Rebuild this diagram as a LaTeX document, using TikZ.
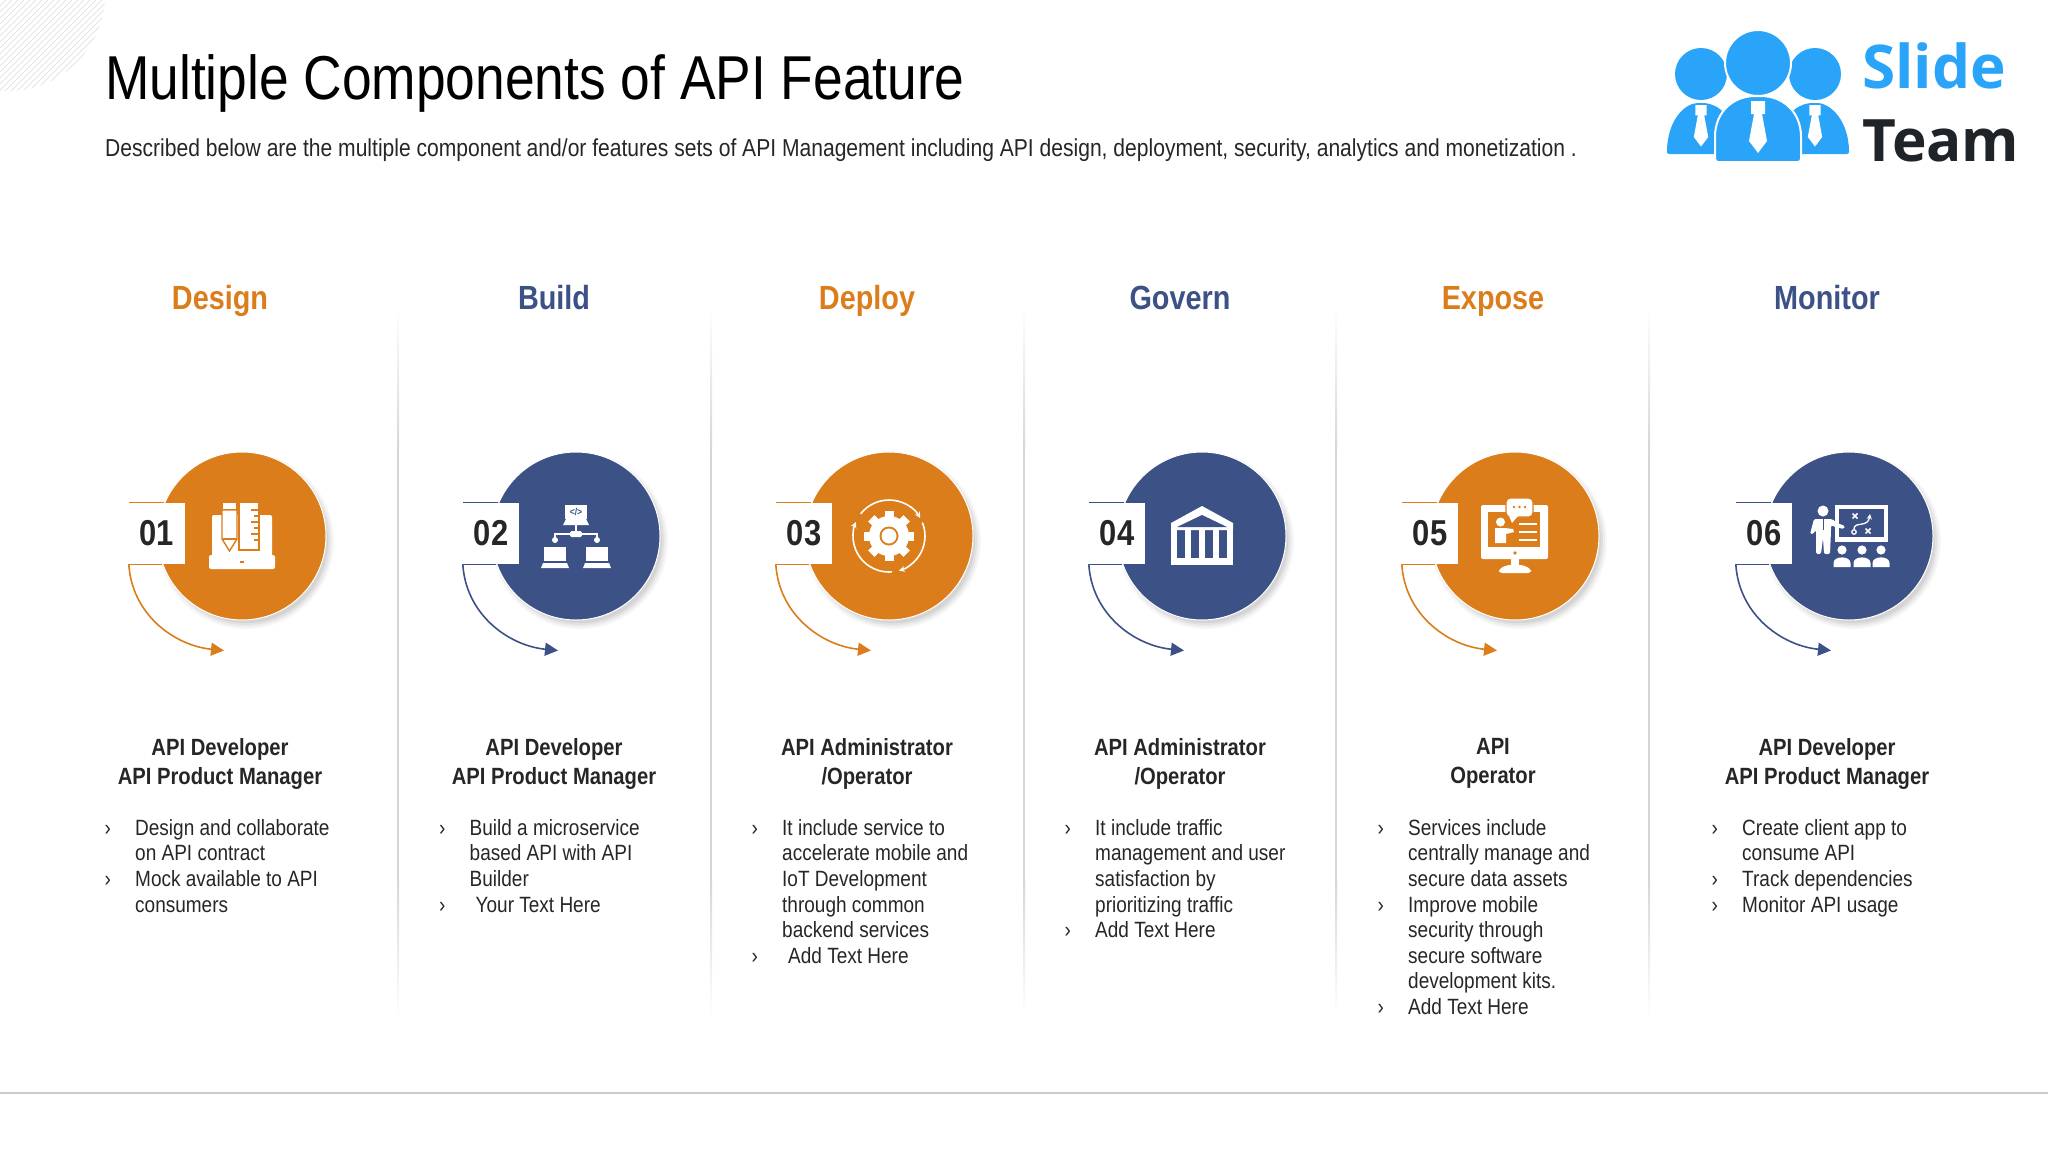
\documentclass[tikz,border=0pt]{standalone}
\usepackage{fontspec}
\setmainfont[FakeStretch=0.86]{Liberation Sans}
\newfontfamily\logofont{Open Sans}
\usetikzlibrary{arrows.meta,positioning}
\definecolor{apiorange}{HTML}{DB7D1B}
\definecolor{apiblue}{HTML}{3C5186}
\definecolor{apitext}{HTML}{262626}
\definecolor{logoblue}{HTML}{2AA4F9}
\definecolor{logodark}{HTML}{1F2428}
\newcommand{\blt}{\leavevmode\makebox[0pt][r]{\makebox[30.5pt][l]{›}}}
\tikzset{
  heading/.style={anchor=base,inner sep=0pt,font=\fontsize{33.5}{36}\selectfont\bfseries},
  rolelabel/.style={anchor=north,inner sep=0pt,align=center,text=apitext,font=\fontsize{23.5}{29}\selectfont\bfseries},
  itemlist/.style={anchor=north west,inner sep=0pt,align=left,text=apitext,font=\fontsize{22.1}{25.6}\selectfont},
  disc/.style={circle,minimum size=168pt,inner sep=0pt,draw=white,line width=1pt},
  numbox/.style={fill=white,minimum width=56pt,minimum height=61pt,inner sep=0pt,text=apitext,font=\fontsize{36}{36}\selectfont\bfseries},
  iconline/.style={white,line width=1.8pt},
}
\begin{document}
\begin{tikzpicture}[x=1pt,y=-1pt,>=stealth]
\useasboundingbox (0,0) rectangle (2048,1152);
\begin{scope}
\clip (8,-6) circle (97);
\foreach \k in {0,6,...,210} \draw[black!11,line width=1pt] (\k,0) -- (\k-110,110);
\end{scope}
\node[anchor=base west,inner sep=0pt,text=black,font=\fontsize{62}{64}\selectfont] (title) at (105,99) {Multiple Components of API Feature};
\node[anchor=base west,inner sep=0pt,text=apitext,font=\fontsize{24.5}{28}\selectfont] (subtitle) at (105,156) {Described below are the multiple component and/or features sets of API Management including API design, deployment, security, analytics and monetization .};
\foreach \sx in {398,711,1024,1336,1649} {
  \shade[top color=white,bottom color=black!16] (\sx-1,305) rectangle (\sx+1,450);
  \fill[black!16] (\sx-1,450) rectangle (\sx+1,880);
  \shade[top color=black!16,bottom color=white] (\sx-1,880) rectangle (\sx+1,1018);
}
\draw[black!20,line width=1.2pt] (0,1093) -- (2048,1093);
\foreach \i/\cx/\clr/\lbl in {1/242/apiorange/Design,2/576/apiblue/Build,3/889/apiorange/Deploy,4/1202/apiblue/Govern,5/1515/apiorange/Expose,6/1849/apiblue/Monitor} {
  \node[heading,text=\clr] (head\i) at (\cx-22,309) {\lbl};
  \foreach \r/\op in {88/0.03,86/0.04,84/0.05,82/0.06} \fill[black,opacity=\op] (\cx+4,541) circle (\r);
  \node[disc,fill=\clr] (disc\i) at (\cx,536) {};
  \node[numbox] (num\i) at (\cx-85,533.5) {\raisebox{-2.5pt}{0\i}};
  \coordinate (tip\i) at (\cx-18,650.5);
  \draw[\clr,line width=1.2pt] (num\i.north west) -- ++(35,0);
  \draw[\clr,line width=1.2pt] (num\i.south west) -- ++(33,0);
  \draw[\clr,line width=1.6pt,-{Triangle[length=13pt,width=13pt]}] (num\i.south west) .. controls +(3,50) and +(-50,-5) .. (tip\i);
}
\node[rolelabel] (role1) at (220,738.5) {API Developer\\API Product Manager};
\node[rolelabel] (role2) at (554,738.5) {API Developer\\API Product Manager};
\node[rolelabel] (role3) at (867,738.5) {API Administrator\\/Operator};
\node[rolelabel] (role4) at (1180,738.5) {API Administrator\\/Operator};
\node[rolelabel] (role5) at (1493,738.5) {API\\Operator};
\node[rolelabel] (role6) at (1827,738.5) {API Developer\\API Product Manager};
\node[itemlist] (list1) at (135,819) {\blt Design and collaborate\\on API contract\\\blt Mock available to API\\consumers};
\node[itemlist] (list2) at (469.5,819) {\blt Build a microservice\\based API with API\\Builder\\\blt\hspace{6pt}Your Text Here};
\node[itemlist] (list3) at (782,819) {\blt It include service to\\accelerate mobile and\\IoT Development\\through common\\backend services\\\blt\hspace{6pt}Add Text Here};
\node[itemlist] (list4) at (1095,819) {\blt It include traffic\\management and user\\satisfaction by\\prioritizing traffic\\\blt Add Text Here};
\node[itemlist] (list5) at (1408,819) {\blt Services include\\centrally manage and\\secure data assets\\\blt Improve mobile\\security through\\secure software\\development kits.\\\blt Add Text Here};
\node[itemlist] (list6) at (1742,819) {\blt Create client app to\\consume API\\\blt Track dependencies\\\blt Monitor API usage};
\begin{scope}[shift={(242,536)}]
\fill[white,rounded corners=2pt] (-30,-21) rectangle (30,22);
\fill[white,rounded corners=2pt] (-33,19) rectangle (33,33);
\fill[apiorange] (-2,25) rectangle (2,27);
\draw[apiorange,line width=1.4pt,fill=white] (-3,-34) rectangle (17,14);
\foreach \ty/\tl in {-26/8,-20/5,-14/8,-8/5,-2/8,4/5} \draw[apiorange,line width=1.4pt] (17,\ty) -- +(-\tl,0);
\draw[apiorange,line width=1.4pt,fill=white] (-20,-26) -- (-20,3) -- (-12.5,15) -- (-5,3) -- (-5,-26) -- cycle;
\fill[white] (-19,-33) rectangle (-6,-27);
\draw[apiorange,line width=1.4pt] (-20,3) -- (-5,3);
\end{scope}
\begin{scope}[shift={(576,536)}]
\fill[white] (-11,-31) rectangle (11,-17);
\fill[white] (-10,-17) -- (10,-17) -- (13,-11) -- (-13,-11) -- cycle;
\node[inner sep=0pt,text=apiblue,font=\fontsize{10}{10}\selectfont\bfseries] (code2) at (0,-24.5) {</>};
\draw[iconline] (0,-11) -- (0,-3);
\fill[white,rounded corners=1.5pt] (-6,-5) rectangle (6,1);
\draw[iconline] (-21,4) |- (21,-2) -- (21,4);
\fill[white] (-21,4) circle (3) (21,4) circle (3);
\foreach \sx in {-21,21} {
  \fill[white] (\sx-11,11) rectangle (\sx+11,25);
  \fill[white] (\sx-12,27) -- (\sx+12,27) -- (\sx+14,32) -- (\sx-14,32) -- cycle;
}
\end{scope}
\begin{scope}[shift={(889,536)}]
\foreach \a in {0,45,...,315} \fill[white,rotate=\a] (-4.5,-25) rectangle (4.5,-15);
\fill[white] (0,0) circle (20);
\fill[apiorange] (0,0) circle (9.5);
\fill[white] (0,0) circle (7.5);
\draw[white,line width=1.6pt,->] (-142:36) arc (-142:-30:36);
\draw[white,line width=1.6pt,->] (-22:36) arc (-22:74:36);
\draw[white,line width=1.6pt,->] (85:36) arc (85:203:36);
\end{scope}
\begin{scope}[shift={(1202,536)}]
\fill[white] (0,-30) -- (31,-13) -- (31,-6) -- (-31,-6) -- (-31,-13) -- cycle;
\fill[apiblue] (0,-21) -- (25,-9) -- (-25,-9) -- cycle;
\foreach \px in {-28,-14,0,14,28} \fill[white] (\px-3,-6) rectangle (\px+3,22);
\fill[white] (-31,22) rectangle (31,29);
\end{scope}
\begin{scope}[shift={(1515,536)}]
\fill[white,rounded corners=2pt] (-34,-31) rectangle (33,23);
\fill[apiorange] (-27,-24) rectangle (25,11);
\fill[white] (-4,22) rectangle (4,31);
\fill[white,rounded corners=3pt] (-16,37) -- (-16,33) -- (-8,29) -- (8,29) -- (16,33) -- (16,37) -- cycle;
\fill[apiorange] (0,17) circle (1.8);
\draw[apiorange,line width=1.4pt,fill=white,rounded corners=4pt] (-9,-38) rectangle (18,-19);
\fill[white] (-6,-20) -- (3,-20) -- (-3,-13) -- cycle;
\foreach \dx in {-1,4.5,10} \fill[apiorange] (\dx,-29) circle (1.4);
\fill[white] (-14.5,-14) circle (4.5);
\fill[white] (-20,-8) -- (-10,-8) -- (-2,-7) -- (-1,-4) -- (-9,-2) -- (-9,7) -- (-20,7) -- cycle;
\foreach \by in {-12,-4,4} \fill[white] (4,\by-1) rectangle (22,\by+1);
\end{scope}
\begin{scope}[shift={(1849,536)}]
\fill[white] (-14,-31) rectangle (39,6);
\fill[apiblue] (-10,-27) rectangle (35,1);
\foreach \mx/\my in {6/-20,19/-5} {
  \draw[white,line width=1.5pt] (\mx-2.5,\my-2.5) -- (\mx+2.5,\my+2.5) (\mx+2.5,\my-2.5) -- (\mx-2.5,\my+2.5);
}
\draw[white,line width=1.3pt] (5,-4) circle (2.2);
\draw[white,line width=1.3pt,->] (5,-7) .. controls (5,-15) and (19,-8) .. (21,-22);
\fill[white] (-26,-25) circle (5.5);
\fill[white,rounded corners=1.5pt] (-35,-17) -- (-17,-17) -- (-12,-13) -- (-4,-10) -- (-5,-7) -- (-14,-9) -- (-18,-11) -- (-18,-6) -- (-19,18) -- (-25,18) -- (-26,2) -- (-28,18) -- (-33,18) -- (-33,-6) -- (-36,-2) -- (-39,-2) -- cycle;
\draw[apiblue,line width=1pt] (-26,-17) -- (-26,-6);
\foreach \ax in {-7,13,32} {
  \fill[white] (\ax,14) circle (4.6);
  \fill[white] (\ax-8.5,31) -- (\ax-8.5,27) .. controls (\ax-8.5,19.5) and (\ax+8.5,19.5) .. (\ax+8.5,27) -- (\ax+8.5,31) -- cycle;
}
\end{scope}
\fill[logoblue,rounded corners=2pt] (1667,154) .. controls (1667,120) and (1685,103) .. (1700,103) .. controls (1720,103) and (1740,120) .. (1724,154) -- cycle;
\fill[logoblue,rounded corners=2pt] (1849,154) .. controls (1849,120) and (1830,103) .. (1815,103) .. controls (1795,103) and (1775,120) .. (1790,154) -- cycle;
\fill[logoblue] (1701,74) circle (26) (1815,74) circle (26);
\draw[white,line width=2pt,fill=logoblue,rounded corners=3pt] (1715,162) -- (1715,140) .. controls (1715,110) and (1735,96) .. (1758,96) .. controls (1781,96) and (1801,110) .. (1801,140) -- (1801,162) -- cycle;
\draw[white,line width=2pt,fill=logoblue] (1758,63) circle (33);
\foreach \tx/\ty/\ts in {1701/105/0.8,1815/105/0.8,1758/101/1} {
  \fill[white,shift={(\tx,\ty)},scale=\ts] (-7,0) rectangle (7,13) (-4,13) -- (4,13) -- (9,40) -- (0,52) -- (-9,40) -- cycle;
}
\node[anchor=base west,inner sep=0pt,text=logoblue,font=\logofont\fontsize{60.3}{64}\selectfont\bfseries] (slide) at (1862,88) {Slide};
\node[anchor=base west,inner sep=0pt,text=logodark,font=\logofont\fontsize{58.5}{64}\selectfont\bfseries] (team) at (1862,161) {Team};
\end{tikzpicture}
\end{document}
